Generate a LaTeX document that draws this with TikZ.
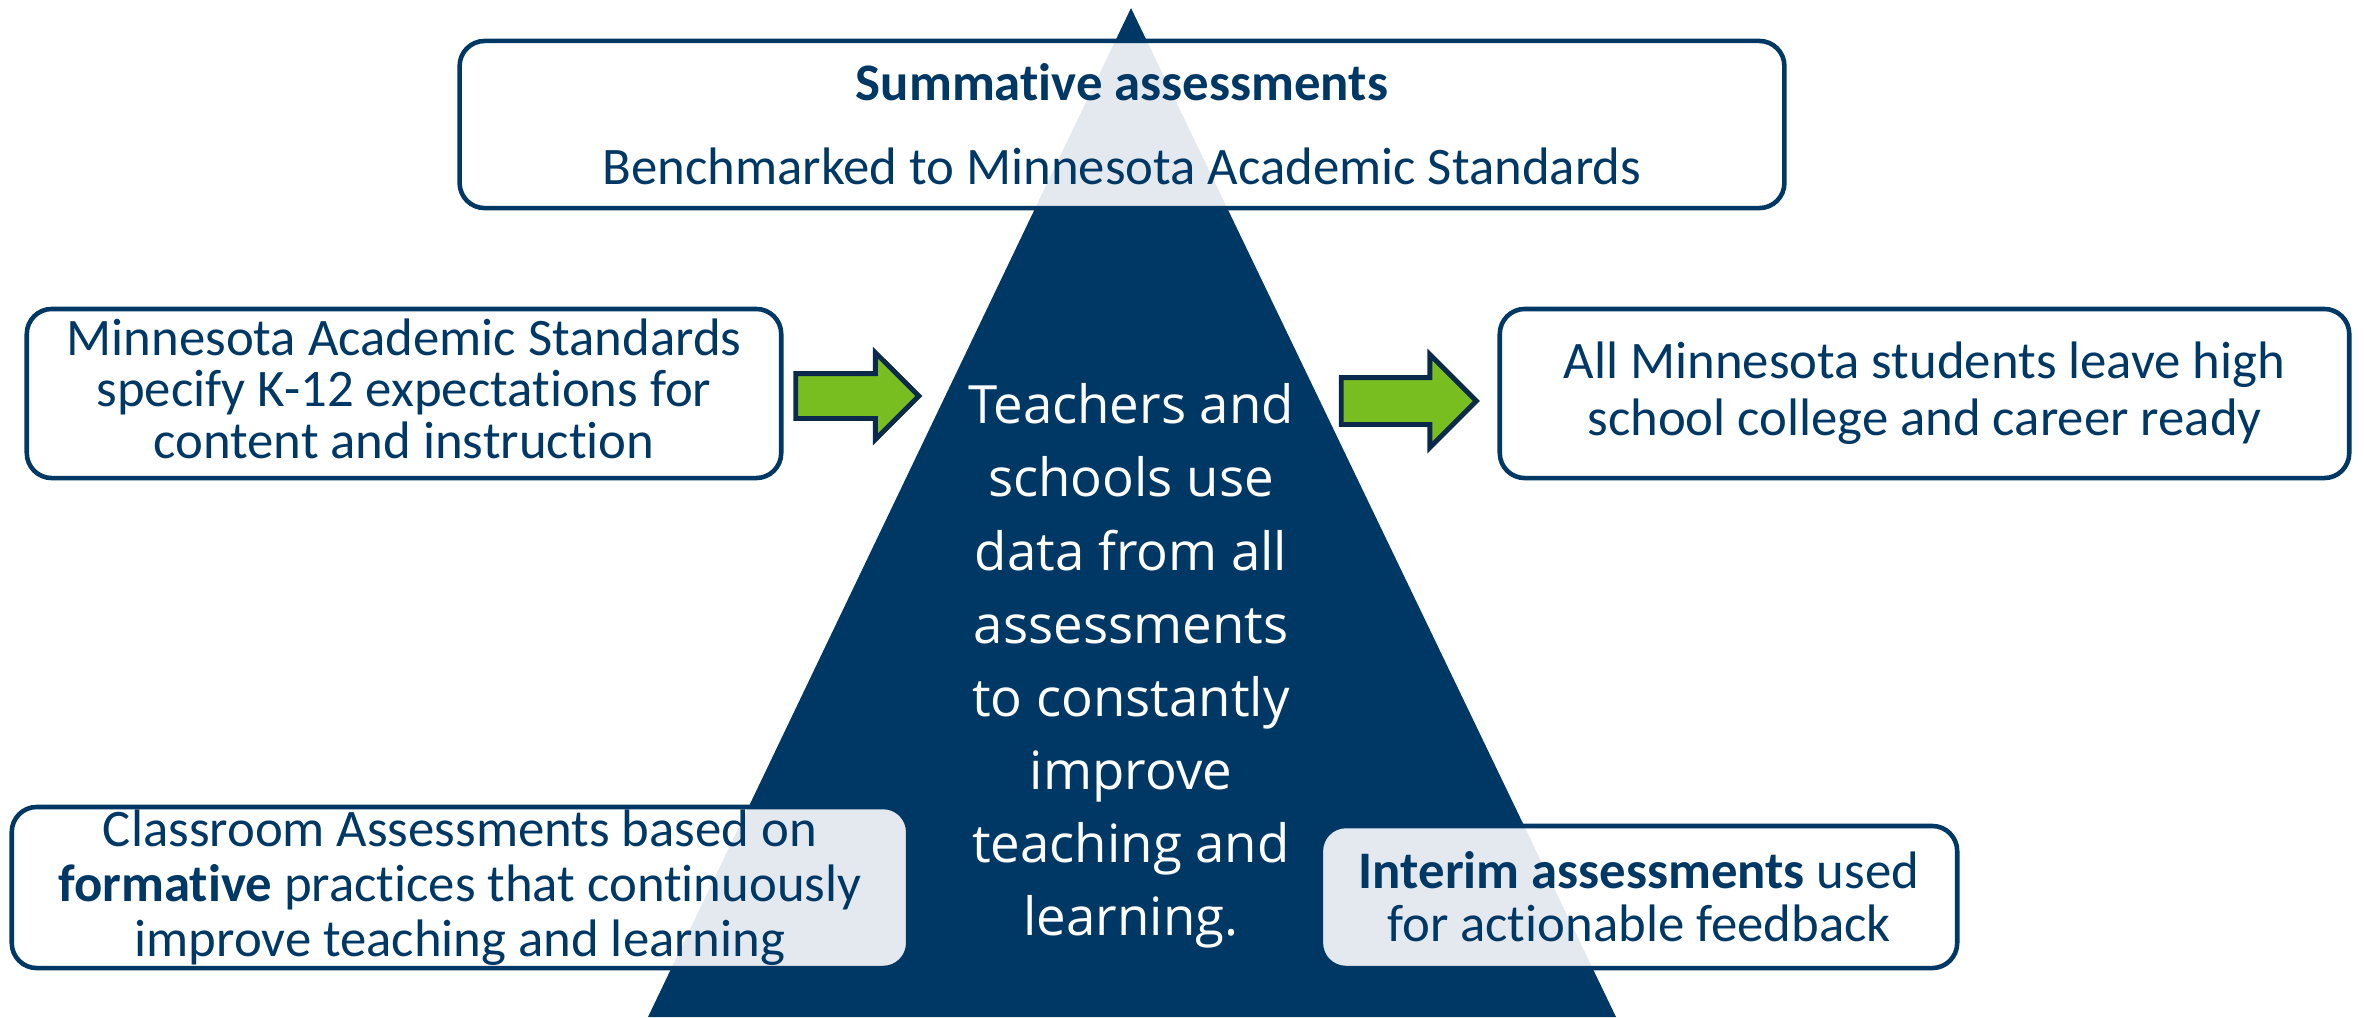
\documentclass[tikz,border=0pt]{standalone}
\usepackage{fontspec}
\setmainfont{Carlito}[Ligatures=NoCommon]
\newfontfamily\corefont{Open Sans}
\usetikzlibrary{shapes.arrows}
\definecolor{mnblue}{HTML}{003865}
\definecolor{mngreen}{HTML}{78BE21}
\definecolor{arrline}{HTML}{0B2A4B}
\tikzset{
  infobox/.style={draw=mnblue, line width=1.3pt, fill=white, fill opacity=0.89, text opacity=1,
    rounded corners=0.25cm, text=mnblue, align=center, inner sep=0pt},
  garrow/.style={single arrow, draw=arrline, fill=mngreen, line width=1.4pt, inner xsep=0pt,
    inner ysep=0.2cm, single arrow head extend=0.21cm},
}
\begin{document}
\begin{tikzpicture}[x=0.01cm, y=-0.01cm]
\useasboundingbox (0,0) rectangle (2364,1017);
\fill[mnblue] (1131,8)--(648,1017)--(1616,1017)--cycle; % pyramid
\node[infobox, minimum width=13.24cm, minimum height=1.67cm, font=\fontsize{15}{17}\selectfont] (summ) at (1122,124.5)
  {\textbf{Summative assessments}\\[6.8pt] Benchmarked to Minnesota Academic Standards};
\node[infobox, minimum width=7.54cm, minimum height=1.69cm, font=\fontsize{15}{14.7}\selectfont] (stds) at (404,393.5)
  {Minnesota Academic Standards\\ specify K-12 expectations for\\ content and instruction\vspace*{2.8pt}};
\node[infobox, minimum width=8.49cm, minimum height=1.69cm, font=\fontsize{15}{16.3}\selectfont] (ready) at (1924.5,393.5)
  {All Minnesota students leave high\\ school college and career ready};
\node[infobox, minimum width=8.96cm, minimum height=1.61cm, font=\fontsize{15}{15.7}\selectfont] (form) at (460,887.5)
  {Classroom Assessments based on\\ \textbf{formative} practices that continuously\\ improve teaching and learning};
\node[infobox, minimum width=6.36cm, minimum height=1.42cm, font=\fontsize{15}{15.1}\selectfont] (inter) at (1639,897)
  {\textbf{Interim assessments} used\\ for actionable feedback};
\node[garrow, minimum height=1.23cm] (arrL) at (846,396) {};
\node[garrow, minimum height=1.35cm, inner ysep=0.21cm, single arrow head extend=0.23cm] (arrR) at (1397,401) {};
\node[text=white, align=center, font=\corefont\fontsize{15}{20.8}\selectfont] (core) at (1131,666)
  {Teachers and\\ schools use\\ data from all\\ assessments\\ to constantly\\ improve\\ teaching and\\ learning.};
\end{tikzpicture}
\end{document}
